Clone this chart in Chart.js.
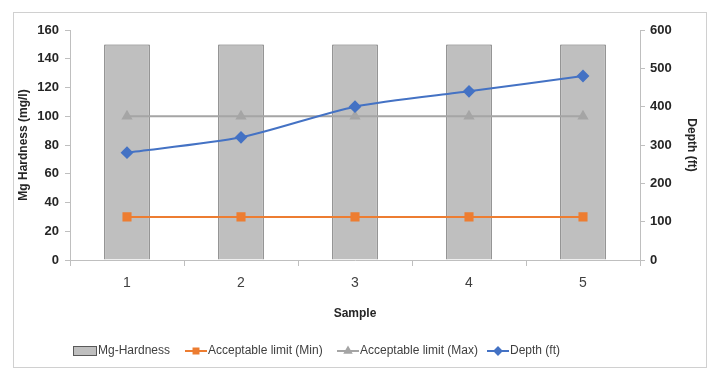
<!DOCTYPE html>
<html>
<head>
<meta charset="utf-8">
<script src="https://cdn.jsdelivr.net/npm/chart.js@4.4.1/dist/chart.umd.min.js"></script>
<style>
  body { margin: 0; background: #fff; }
  .marco { position: absolute; left: 13px; top: 12px; width: 694px; height: 356px; border: 1px solid #d0d0d0; box-sizing: border-box; }
  canvas { display: block; }
</style>
</head>
<body>
<div class="marco"><canvas id="grafico" width="692" height="354"></canvas></div>
<script>
// datos
const muestras = ['1', '2', '3', '4', '5'];
const durezaMg = [150, 150, 150, 150, 150];
const limiteMin = [30, 30, 30, 30, 30];
const limiteMax = [100, 100, 100, 100, 100];
const profundidad = [280, 320, 400, 440, 480];

const fuente = "'Liberation Sans', Arial, sans-serif";
const legendaX = [59, 171, 323, 473]; // inicio de cada item de la leyenda

// leyenda dibujada a mano para que se parezca a la de Excel
const leyendaExcel = {
    id: 'leyendaExcel',
    afterDraw(chart) {
        const ctx = chart.ctx;
        const y = 338;
        ctx.save();
        ctx.font = "12px " + fuente;
        ctx.textBaseline = 'middle';
        chart.data.datasets.forEach((ds, i) => {
            const x = legendaX[i];
            if (ds.type === 'bar') {
                ctx.fillStyle = ds.backgroundColor;
                ctx.strokeStyle = ds.borderColor;
                ctx.lineWidth = 1;
                ctx.fillRect(x, y - 5, 24, 10);
                ctx.strokeRect(x + 0.5, y - 4.5, 23, 9);
                ctx.fillStyle = '#404040';
                ctx.fillText(ds.label, x + 25, y);
            } else {
                ctx.strokeStyle = ds.borderColor;
                ctx.lineWidth = 2;
                ctx.beginPath();
                ctx.moveTo(x, y);
                ctx.lineTo(x + 22, y);
                ctx.stroke();
                Chart.helpers.drawPoint(ctx, {
                    pointStyle: ds.pointStyle, radius: 3.5, borderWidth: 1, rotation: 0
                }, x + 11, y);
                ctx.fillStyle = ds.borderColor;
                ctx.fill();
                ctx.fillStyle = '#404040';
                ctx.fillText(ds.label, x + 23, y);
            }
        });
        ctx.restore();
    }
};

const ctx = document.querySelector("#grafico").getContext("2d");
new Chart(ctx, {
    data: {
        labels: muestras,
        datasets: [{
            type: 'bar',
            label: 'Mg-Hardness',
            data: durezaMg,
            backgroundColor: '#bfbfbf',
            borderColor: '#595959',
            borderWidth: 1,
            barPercentage: 0.4,
            categoryPercentage: 1,
            yAxisID: 'y',
            order: 10
        }, {
            type: 'line',
            label: 'Acceptable limit (Min)',
            data: limiteMin,
            borderColor: '#ed7d31',
            backgroundColor: '#ed7d31',
            borderWidth: 2,
            pointStyle: 'rect',
            pointRadius: 5,
            yAxisID: 'y',
            order: 3
        }, {
            type: 'line',
            label: 'Acceptable limit (Max)',
            data: limiteMax,
            borderColor: '#a5a5a5',
            backgroundColor: '#a5a5a5',
            borderWidth: 2,
            pointStyle: 'triangle',
            pointRadius: 4.5,
            yAxisID: 'y',
            order: 2
        }, {
            type: 'line',
            label: 'Depth (ft)',
            data: profundidad,
            borderColor: '#4472c4',
            backgroundColor: '#4472c4',
            borderWidth: 2,
            pointStyle: 'rectRot',
            pointRadius: 5,
            tension: 0.25,
            yAxisID: 'y1',
            order: 1
        }]
    },
    options: {
        responsive: false,
        animation: false,
        layout: { padding: { top: 17, bottom: 46, left: 0, right: 0 } },
        plugins: { legend: { display: false }, tooltip: { enabled: false } },
        scales: {
            x: {
                grid: { offset: true, drawOnChartArea: false, tickLength: 6, color: '#bfbfbf' },
                border: { color: '#bfbfbf' },
                ticks: { color: '#404040', font: { family: fuente, size: 14 }, padding: 9 },
                title: { display: true, text: 'Sample', color: '#262626', font: { family: fuente, size: 12, weight: 'bold' }, padding: { top: 0, bottom: 0 } },
                afterFit: (s) => { s.height = 61; }
            },
            y: {
                position: 'left',
                min: 0, max: 160,
                ticks: { stepSize: 20, color: '#262626', font: { family: fuente, size: 13, weight: 'bold' }, padding: 6 },
                grid: { drawOnChartArea: false, tickLength: 5, color: '#bfbfbf' },
                border: { color: '#bfbfbf' },
                title: { display: true, text: 'Mg Hardness (mg/l)', color: '#262626', font: { family: fuente, size: 12, weight: 'bold' }, padding: { top: 2, bottom: 0 } },
                afterFit: (s) => { s.width = 56; }
            },
            y1: {
                position: 'right',
                min: 0, max: 600,
                ticks: { stepSize: 100, color: '#262626', font: { family: fuente, size: 13, weight: 'bold' }, padding: 5 },
                grid: { drawOnChartArea: false, tickLength: 5, color: '#bfbfbf' },
                border: { color: '#bfbfbf' },
                title: { display: true, text: 'Depth (ft)', color: '#262626', font: { family: fuente, size: 12, weight: 'bold' }, padding: { top: 7, bottom: 0 } },
                afterFit: (s) => { s.width = 66; }
            }
        }
    },
    plugins: [leyendaExcel]
});
</script>
</body>
</html>
